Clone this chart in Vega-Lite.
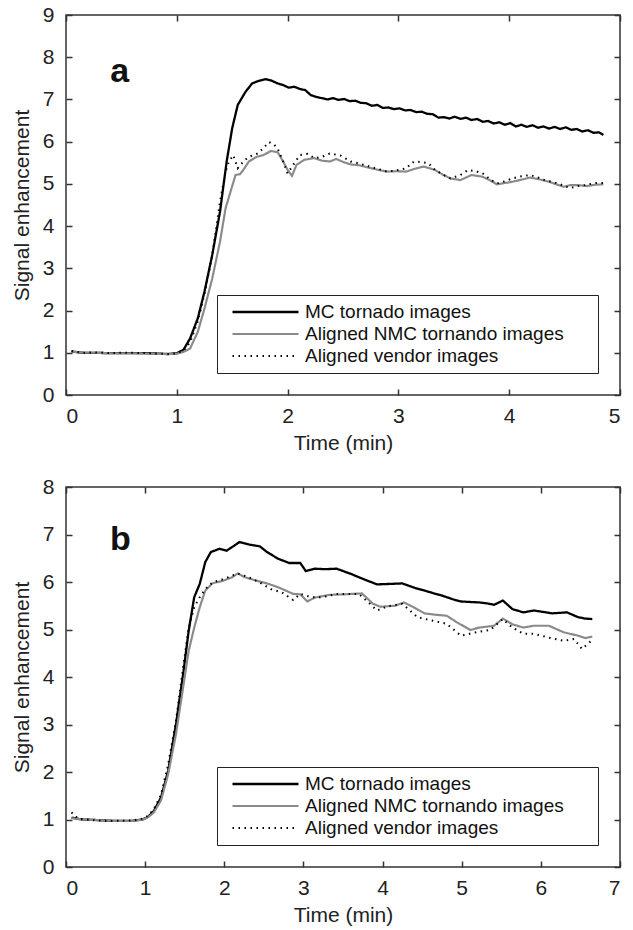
{
  "$schema": "https://vega.github.io/schema/vega-lite/v6.json",
  "background": "white",
  "padding": {"left": 10, "top": 3, "right": 5, "bottom": 5},
  "spacing": 21,
  "config": {
    "font": "Liberation Sans",
    "view": {"stroke": "#333", "strokeWidth": 1.5},
    "axis": {"domain": false, "grid": false, "tickSize": -6, "tickColor": "#333", "tickWidth": 1.5, "labelFontSize": 21, "labelColor": "#222", "titleFontSize": 21, "titleFontWeight": "normal", "titleColor": "#222"},
    "legend": {"orient": "bottom-right", "offset": 22, "strokeColor": "#222", "padding": 6, "symbolType": "stroke", "symbolSize": 4356, "clipHeight": 22, "rowPadding": 0, "labelFontSize": 19, "labelColor": "#111", "labelOffset": 5, "symbolOffset": 8, "labelLimit": 500, "fillColor": "white"}
  },
  "datasets": {
    "a": [
      {"s":"MC tornado images","t":0.05,"v":1.03},{"s":"MC tornado images","t":0.15,"v":1.0},{"s":"MC tornado images","t":0.26,"v":1.0},{"s":"MC tornado images","t":0.4,"v":0.99},{"s":"MC tornado images","t":0.59,"v":0.99},{"s":"MC tornado images","t":0.75,"v":0.99},{"s":"MC tornado images","t":0.92,"v":0.97},{"s":"MC tornado images","t":1.0,"v":0.99},{"s":"MC tornado images","t":1.06,"v":1.07},{"s":"MC tornado images","t":1.12,"v":1.34},{"s":"MC tornado images","t":1.19,"v":1.82},{"s":"MC tornado images","t":1.25,"v":2.45},{"s":"MC tornado images","t":1.32,"v":3.32},{"s":"MC tornado images","t":1.39,"v":4.34},{"s":"MC tornado images","t":1.45,"v":5.53},{"s":"MC tornado images","t":1.5,"v":6.32},{"s":"MC tornado images","t":1.55,"v":6.87},{"s":"MC tornado images","t":1.62,"v":7.18},{"s":"MC tornado images","t":1.68,"v":7.38},{"s":"MC tornado images","t":1.74,"v":7.44},{"s":"MC tornado images","t":1.8,"v":7.48},{"s":"MC tornado images","t":1.85,"v":7.45},{"s":"MC tornado images","t":1.91,"v":7.38},{"s":"MC tornado images","t":1.96,"v":7.34},{"s":"MC tornado images","t":2.01,"v":7.28},{"s":"MC tornado images","t":2.06,"v":7.3},{"s":"MC tornado images","t":2.11,"v":7.25},{"s":"MC tornado images","t":2.16,"v":7.22},{"s":"MC tornado images","t":2.21,"v":7.1},{"s":"MC tornado images","t":2.26,"v":7.06},{"s":"MC tornado images","t":2.31,"v":7.03},{"s":"MC tornado images","t":2.36,"v":7.0},{"s":"MC tornado images","t":2.41,"v":7.03},{"s":"MC tornado images","t":2.46,"v":6.99},{"s":"MC tornado images","t":2.51,"v":7.01},{"s":"MC tornado images","t":2.56,"v":6.96},{"s":"MC tornado images","t":2.61,"v":6.97},{"s":"MC tornado images","t":2.66,"v":6.92},{"s":"MC tornado images","t":2.71,"v":6.91},{"s":"MC tornado images","t":2.76,"v":6.85},{"s":"MC tornado images","t":2.81,"v":6.87},{"s":"MC tornado images","t":2.86,"v":6.8},{"s":"MC tornado images","t":2.91,"v":6.81},{"s":"MC tornado images","t":2.96,"v":6.77},{"s":"MC tornado images","t":3.01,"v":6.79},{"s":"MC tornado images","t":3.06,"v":6.74},{"s":"MC tornado images","t":3.11,"v":6.75},{"s":"MC tornado images","t":3.16,"v":6.7},{"s":"MC tornado images","t":3.21,"v":6.71},{"s":"MC tornado images","t":3.26,"v":6.66},{"s":"MC tornado images","t":3.31,"v":6.65},{"s":"MC tornado images","t":3.36,"v":6.57},{"s":"MC tornado images","t":3.41,"v":6.58},{"s":"MC tornado images","t":3.46,"v":6.55},{"s":"MC tornado images","t":3.51,"v":6.59},{"s":"MC tornado images","t":3.56,"v":6.54},{"s":"MC tornado images","t":3.61,"v":6.57},{"s":"MC tornado images","t":3.66,"v":6.51},{"s":"MC tornado images","t":3.71,"v":6.54},{"s":"MC tornado images","t":3.76,"v":6.47},{"s":"MC tornado images","t":3.81,"v":6.49},{"s":"MC tornado images","t":3.86,"v":6.43},{"s":"MC tornado images","t":3.91,"v":6.46},{"s":"MC tornado images","t":3.96,"v":6.4},{"s":"MC tornado images","t":4.01,"v":6.44},{"s":"MC tornado images","t":4.06,"v":6.36},{"s":"MC tornado images","t":4.11,"v":6.4},{"s":"MC tornado images","t":4.16,"v":6.35},{"s":"MC tornado images","t":4.21,"v":6.39},{"s":"MC tornado images","t":4.26,"v":6.33},{"s":"MC tornado images","t":4.31,"v":6.36},{"s":"MC tornado images","t":4.36,"v":6.31},{"s":"MC tornado images","t":4.41,"v":6.35},{"s":"MC tornado images","t":4.46,"v":6.3},{"s":"MC tornado images","t":4.51,"v":6.34},{"s":"MC tornado images","t":4.56,"v":6.28},{"s":"MC tornado images","t":4.61,"v":6.3},{"s":"MC tornado images","t":4.66,"v":6.24},{"s":"MC tornado images","t":4.71,"v":6.27},{"s":"MC tornado images","t":4.76,"v":6.21},{"s":"MC tornado images","t":4.81,"v":6.22},{"s":"MC tornado images","t":4.85,"v":6.16},
      {"s":"Aligned NMC tornando images","t":0.05,"v":1.03},{"s":"Aligned NMC tornando images","t":0.15,"v":1.0},{"s":"Aligned NMC tornando images","t":0.26,"v":1.0},{"s":"Aligned NMC tornando images","t":0.4,"v":0.99},{"s":"Aligned NMC tornando images","t":0.59,"v":0.99},{"s":"Aligned NMC tornando images","t":0.75,"v":0.98},{"s":"Aligned NMC tornando images","t":0.92,"v":0.97},{"s":"Aligned NMC tornando images","t":1.0,"v":0.98},{"s":"Aligned NMC tornando images","t":1.06,"v":1.02},{"s":"Aligned NMC tornando images","t":1.12,"v":1.1},{"s":"Aligned NMC tornando images","t":1.19,"v":1.5},{"s":"Aligned NMC tornando images","t":1.25,"v":2.05},{"s":"Aligned NMC tornando images","t":1.32,"v":2.76},{"s":"Aligned NMC tornando images","t":1.39,"v":3.63},{"s":"Aligned NMC tornando images","t":1.44,"v":4.42},{"s":"Aligned NMC tornando images","t":1.49,"v":4.86},{"s":"Aligned NMC tornando images","t":1.53,"v":5.21},{"s":"Aligned NMC tornando images","t":1.57,"v":5.23},{"s":"Aligned NMC tornando images","t":1.6,"v":5.33},{"s":"Aligned NMC tornando images","t":1.65,"v":5.53},{"s":"Aligned NMC tornando images","t":1.72,"v":5.64},{"s":"Aligned NMC tornando images","t":1.78,"v":5.68},{"s":"Aligned NMC tornando images","t":1.85,"v":5.78},{"s":"Aligned NMC tornando images","t":1.91,"v":5.75},{"s":"Aligned NMC tornando images","t":1.96,"v":5.53},{"s":"Aligned NMC tornando images","t":2.0,"v":5.33},{"s":"Aligned NMC tornando images","t":2.04,"v":5.19},{"s":"Aligned NMC tornando images","t":2.08,"v":5.45},{"s":"Aligned NMC tornando images","t":2.15,"v":5.57},{"s":"Aligned NMC tornando images","t":2.24,"v":5.61},{"s":"Aligned NMC tornando images","t":2.31,"v":5.55},{"s":"Aligned NMC tornando images","t":2.38,"v":5.53},{"s":"Aligned NMC tornando images","t":2.44,"v":5.59},{"s":"Aligned NMC tornando images","t":2.5,"v":5.52},{"s":"Aligned NMC tornando images","t":2.57,"v":5.46},{"s":"Aligned NMC tornando images","t":2.65,"v":5.44},{"s":"Aligned NMC tornando images","t":2.74,"v":5.38},{"s":"Aligned NMC tornando images","t":2.82,"v":5.33},{"s":"Aligned NMC tornando images","t":2.9,"v":5.29},{"s":"Aligned NMC tornando images","t":2.98,"v":5.3},{"s":"Aligned NMC tornando images","t":3.07,"v":5.29},{"s":"Aligned NMC tornando images","t":3.15,"v":5.36},{"s":"Aligned NMC tornando images","t":3.23,"v":5.41},{"s":"Aligned NMC tornando images","t":3.33,"v":5.33},{"s":"Aligned NMC tornando images","t":3.4,"v":5.22},{"s":"Aligned NMC tornando images","t":3.47,"v":5.13},{"s":"Aligned NMC tornando images","t":3.56,"v":5.09},{"s":"Aligned NMC tornando images","t":3.66,"v":5.21},{"s":"Aligned NMC tornando images","t":3.76,"v":5.17},{"s":"Aligned NMC tornando images","t":3.83,"v":5.08},{"s":"Aligned NMC tornando images","t":3.89,"v":4.99},{"s":"Aligned NMC tornando images","t":3.96,"v":5.02},{"s":"Aligned NMC tornando images","t":4.03,"v":5.05},{"s":"Aligned NMC tornando images","t":4.11,"v":5.1},{"s":"Aligned NMC tornando images","t":4.19,"v":5.15},{"s":"Aligned NMC tornando images","t":4.27,"v":5.11},{"s":"Aligned NMC tornando images","t":4.36,"v":5.05},{"s":"Aligned NMC tornando images","t":4.49,"v":4.93},{"s":"Aligned NMC tornando images","t":4.55,"v":4.97},{"s":"Aligned NMC tornando images","t":4.62,"v":4.97},{"s":"Aligned NMC tornando images","t":4.7,"v":4.95},{"s":"Aligned NMC tornando images","t":4.78,"v":4.98},{"s":"Aligned NMC tornando images","t":4.85,"v":4.99},
      {"s":"Aligned vendor images","t":0.05,"v":1.04},{"s":"Aligned vendor images","t":0.15,"v":1.0},{"s":"Aligned vendor images","t":0.26,"v":1.01},{"s":"Aligned vendor images","t":0.4,"v":0.99},{"s":"Aligned vendor images","t":0.5,"v":1.0},{"s":"Aligned vendor images","t":0.59,"v":1.0},{"s":"Aligned vendor images","t":0.75,"v":0.99},{"s":"Aligned vendor images","t":0.92,"v":0.97},{"s":"Aligned vendor images","t":1.0,"v":0.99},{"s":"Aligned vendor images","t":1.06,"v":1.05},{"s":"Aligned vendor images","t":1.12,"v":1.25},{"s":"Aligned vendor images","t":1.19,"v":1.75},{"s":"Aligned vendor images","t":1.25,"v":2.4},{"s":"Aligned vendor images","t":1.32,"v":3.3},{"s":"Aligned vendor images","t":1.39,"v":4.58},{"s":"Aligned vendor images","t":1.44,"v":5.29},{"s":"Aligned vendor images","t":1.47,"v":5.53},{"s":"Aligned vendor images","t":1.51,"v":5.68},{"s":"Aligned vendor images","t":1.55,"v":5.37},{"s":"Aligned vendor images","t":1.6,"v":5.53},{"s":"Aligned vendor images","t":1.65,"v":5.64},{"s":"Aligned vendor images","t":1.73,"v":5.72},{"s":"Aligned vendor images","t":1.78,"v":5.84},{"s":"Aligned vendor images","t":1.83,"v":5.99},{"s":"Aligned vendor images","t":1.87,"v":5.95},{"s":"Aligned vendor images","t":1.91,"v":5.84},{"s":"Aligned vendor images","t":1.96,"v":5.53},{"s":"Aligned vendor images","t":2.0,"v":5.25},{"s":"Aligned vendor images","t":2.05,"v":5.45},{"s":"Aligned vendor images","t":2.11,"v":5.68},{"s":"Aligned vendor images","t":2.18,"v":5.71},{"s":"Aligned vendor images","t":2.24,"v":5.61},{"s":"Aligned vendor images","t":2.31,"v":5.64},{"s":"Aligned vendor images","t":2.38,"v":5.72},{"s":"Aligned vendor images","t":2.48,"v":5.67},{"s":"Aligned vendor images","t":2.57,"v":5.53},{"s":"Aligned vendor images","t":2.65,"v":5.48},{"s":"Aligned vendor images","t":2.74,"v":5.41},{"s":"Aligned vendor images","t":2.82,"v":5.35},{"s":"Aligned vendor images","t":2.9,"v":5.29},{"s":"Aligned vendor images","t":2.98,"v":5.32},{"s":"Aligned vendor images","t":3.07,"v":5.37},{"s":"Aligned vendor images","t":3.14,"v":5.53},{"s":"Aligned vendor images","t":3.2,"v":5.52},{"s":"Aligned vendor images","t":3.27,"v":5.49},{"s":"Aligned vendor images","t":3.33,"v":5.33},{"s":"Aligned vendor images","t":3.4,"v":5.22},{"s":"Aligned vendor images","t":3.47,"v":5.13},{"s":"Aligned vendor images","t":3.56,"v":5.21},{"s":"Aligned vendor images","t":3.63,"v":5.33},{"s":"Aligned vendor images","t":3.7,"v":5.3},{"s":"Aligned vendor images","t":3.76,"v":5.25},{"s":"Aligned vendor images","t":3.83,"v":5.1},{"s":"Aligned vendor images","t":3.89,"v":5.01},{"s":"Aligned vendor images","t":3.96,"v":5.06},{"s":"Aligned vendor images","t":4.03,"v":5.13},{"s":"Aligned vendor images","t":4.11,"v":5.18},{"s":"Aligned vendor images","t":4.19,"v":5.21},{"s":"Aligned vendor images","t":4.26,"v":5.15},{"s":"Aligned vendor images","t":4.32,"v":5.09},{"s":"Aligned vendor images","t":4.4,"v":5.04},{"s":"Aligned vendor images","t":4.46,"v":4.99},{"s":"Aligned vendor images","t":4.55,"v":4.9},{"s":"Aligned vendor images","t":4.62,"v":4.95},{"s":"Aligned vendor images","t":4.69,"v":4.97},{"s":"Aligned vendor images","t":4.77,"v":5.02},{"s":"Aligned vendor images","t":4.85,"v":5.02}
    ],
    "b": [
      {"s":"MC tornado images","t":0.07,"v":1.04},{"s":"MC tornado images","t":0.2,"v":1.0},{"s":"MC tornado images","t":0.37,"v":0.99},{"s":"MC tornado images","t":0.6,"v":0.97},{"s":"MC tornado images","t":0.83,"v":0.97},{"s":"MC tornado images","t":0.97,"v":1.0},{"s":"MC tornado images","t":1.04,"v":1.06},{"s":"MC tornado images","t":1.11,"v":1.18},{"s":"MC tornado images","t":1.2,"v":1.46},{"s":"MC tornado images","t":1.29,"v":2.02},{"s":"MC tornado images","t":1.39,"v":3.01},{"s":"MC tornado images","t":1.48,"v":4.06},{"s":"MC tornado images","t":1.55,"v":4.97},{"s":"MC tornado images","t":1.62,"v":5.68},{"s":"MC tornado images","t":1.69,"v":5.96},{"s":"MC tornado images","t":1.76,"v":6.42},{"s":"MC tornado images","t":1.83,"v":6.63},{"s":"MC tornado images","t":1.94,"v":6.7},{"s":"MC tornado images","t":2.03,"v":6.66},{"s":"MC tornado images","t":2.13,"v":6.77},{"s":"MC tornado images","t":2.19,"v":6.84},{"s":"MC tornado images","t":2.31,"v":6.79},{"s":"MC tornado images","t":2.45,"v":6.75},{"s":"MC tornado images","t":2.54,"v":6.63},{"s":"MC tornado images","t":2.68,"v":6.49},{"s":"MC tornado images","t":2.82,"v":6.4},{"s":"MC tornado images","t":2.96,"v":6.4},{"s":"MC tornado images","t":3.03,"v":6.23},{"s":"MC tornado images","t":3.14,"v":6.28},{"s":"MC tornado images","t":3.28,"v":6.27},{"s":"MC tornado images","t":3.42,"v":6.28},{"s":"MC tornado images","t":3.6,"v":6.17},{"s":"MC tornado images","t":3.79,"v":6.04},{"s":"MC tornado images","t":3.93,"v":5.95},{"s":"MC tornado images","t":4.1,"v":5.96},{"s":"MC tornado images","t":4.25,"v":5.97},{"s":"MC tornado images","t":4.4,"v":5.88},{"s":"MC tornado images","t":4.53,"v":5.82},{"s":"MC tornado images","t":4.65,"v":5.76},{"s":"MC tornado images","t":4.76,"v":5.71},{"s":"MC tornado images","t":4.88,"v":5.64},{"s":"MC tornado images","t":4.99,"v":5.59},{"s":"MC tornado images","t":5.1,"v":5.58},{"s":"MC tornado images","t":5.22,"v":5.57},{"s":"MC tornado images","t":5.32,"v":5.55},{"s":"MC tornado images","t":5.41,"v":5.52},{"s":"MC tornado images","t":5.52,"v":5.61},{"s":"MC tornado images","t":5.64,"v":5.43},{"s":"MC tornado images","t":5.78,"v":5.36},{"s":"MC tornado images","t":5.91,"v":5.4},{"s":"MC tornado images","t":6.03,"v":5.37},{"s":"MC tornado images","t":6.14,"v":5.34},{"s":"MC tornado images","t":6.33,"v":5.36},{"s":"MC tornado images","t":6.47,"v":5.26},{"s":"MC tornado images","t":6.56,"v":5.23},{"s":"MC tornado images","t":6.65,"v":5.22},
      {"s":"Aligned NMC tornando images","t":0.07,"v":1.03},{"s":"Aligned NMC tornando images","t":0.2,"v":1.0},{"s":"Aligned NMC tornando images","t":0.37,"v":0.99},{"s":"Aligned NMC tornando images","t":0.6,"v":0.97},{"s":"Aligned NMC tornando images","t":0.83,"v":0.97},{"s":"Aligned NMC tornando images","t":0.97,"v":1.0},{"s":"Aligned NMC tornando images","t":1.04,"v":1.05},{"s":"Aligned NMC tornando images","t":1.11,"v":1.15},{"s":"Aligned NMC tornando images","t":1.2,"v":1.4},{"s":"Aligned NMC tornando images","t":1.29,"v":1.95},{"s":"Aligned NMC tornando images","t":1.39,"v":2.8},{"s":"Aligned NMC tornando images","t":1.48,"v":3.78},{"s":"Aligned NMC tornando images","t":1.55,"v":4.55},{"s":"Aligned NMC tornando images","t":1.62,"v":5.04},{"s":"Aligned NMC tornando images","t":1.69,"v":5.47},{"s":"Aligned NMC tornando images","t":1.76,"v":5.82},{"s":"Aligned NMC tornando images","t":1.85,"v":5.97},{"s":"Aligned NMC tornando images","t":1.99,"v":6.03},{"s":"Aligned NMC tornando images","t":2.1,"v":6.1},{"s":"Aligned NMC tornando images","t":2.17,"v":6.18},{"s":"Aligned NMC tornando images","t":2.26,"v":6.1},{"s":"Aligned NMC tornando images","t":2.4,"v":6.03},{"s":"Aligned NMC tornando images","t":2.54,"v":5.97},{"s":"Aligned NMC tornando images","t":2.68,"v":5.89},{"s":"Aligned NMC tornando images","t":2.87,"v":5.75},{"s":"Aligned NMC tornando images","t":2.96,"v":5.74},{"s":"Aligned NMC tornando images","t":3.05,"v":5.59},{"s":"Aligned NMC tornando images","t":3.14,"v":5.67},{"s":"Aligned NMC tornando images","t":3.33,"v":5.73},{"s":"Aligned NMC tornando images","t":3.51,"v":5.74},{"s":"Aligned NMC tornando images","t":3.74,"v":5.76},{"s":"Aligned NMC tornando images","t":3.88,"v":5.54},{"s":"Aligned NMC tornando images","t":3.97,"v":5.48},{"s":"Aligned NMC tornando images","t":4.16,"v":5.5},{"s":"Aligned NMC tornando images","t":4.27,"v":5.57},{"s":"Aligned NMC tornando images","t":4.39,"v":5.47},{"s":"Aligned NMC tornando images","t":4.53,"v":5.34},{"s":"Aligned NMC tornando images","t":4.67,"v":5.31},{"s":"Aligned NMC tornando images","t":4.81,"v":5.29},{"s":"Aligned NMC tornando images","t":4.94,"v":5.15},{"s":"Aligned NMC tornando images","t":5.11,"v":4.99},{"s":"Aligned NMC tornando images","t":5.22,"v":5.04},{"s":"Aligned NMC tornando images","t":5.41,"v":5.08},{"s":"Aligned NMC tornando images","t":5.52,"v":5.23},{"s":"Aligned NMC tornando images","t":5.64,"v":5.11},{"s":"Aligned NMC tornando images","t":5.78,"v":5.04},{"s":"Aligned NMC tornando images","t":5.91,"v":5.08},{"s":"Aligned NMC tornando images","t":6.1,"v":5.08},{"s":"Aligned NMC tornando images","t":6.29,"v":4.94},{"s":"Aligned NMC tornando images","t":6.47,"v":4.87},{"s":"Aligned NMC tornando images","t":6.56,"v":4.82},{"s":"Aligned NMC tornando images","t":6.65,"v":4.85},
      {"s":"Aligned vendor images","t":0.07,"v":1.15},{"s":"Aligned vendor images","t":0.15,"v":1.02},{"s":"Aligned vendor images","t":0.37,"v":0.98},{"s":"Aligned vendor images","t":0.6,"v":0.97},{"s":"Aligned vendor images","t":0.83,"v":0.98},{"s":"Aligned vendor images","t":0.97,"v":1.02},{"s":"Aligned vendor images","t":1.04,"v":1.08},{"s":"Aligned vendor images","t":1.11,"v":1.22},{"s":"Aligned vendor images","t":1.2,"v":1.52},{"s":"Aligned vendor images","t":1.29,"v":2.15},{"s":"Aligned vendor images","t":1.39,"v":3.08},{"s":"Aligned vendor images","t":1.48,"v":4.2},{"s":"Aligned vendor images","t":1.55,"v":5.04},{"s":"Aligned vendor images","t":1.62,"v":5.47},{"s":"Aligned vendor images","t":1.69,"v":5.68},{"s":"Aligned vendor images","t":1.76,"v":5.85},{"s":"Aligned vendor images","t":1.85,"v":5.99},{"s":"Aligned vendor images","t":1.99,"v":6.06},{"s":"Aligned vendor images","t":2.17,"v":6.18},{"s":"Aligned vendor images","t":2.31,"v":6.1},{"s":"Aligned vendor images","t":2.45,"v":5.99},{"s":"Aligned vendor images","t":2.59,"v":5.85},{"s":"Aligned vendor images","t":2.73,"v":5.78},{"s":"Aligned vendor images","t":2.87,"v":5.62},{"s":"Aligned vendor images","t":2.96,"v":5.75},{"s":"Aligned vendor images","t":3.1,"v":5.68},{"s":"Aligned vendor images","t":3.24,"v":5.68},{"s":"Aligned vendor images","t":3.42,"v":5.75},{"s":"Aligned vendor images","t":3.7,"v":5.75},{"s":"Aligned vendor images","t":3.84,"v":5.54},{"s":"Aligned vendor images","t":3.93,"v":5.4},{"s":"Aligned vendor images","t":4.07,"v":5.49},{"s":"Aligned vendor images","t":4.25,"v":5.54},{"s":"Aligned vendor images","t":4.44,"v":5.26},{"s":"Aligned vendor images","t":4.62,"v":5.19},{"s":"Aligned vendor images","t":4.81,"v":5.12},{"s":"Aligned vendor images","t":4.99,"v":4.87},{"s":"Aligned vendor images","t":5.18,"v":4.94},{"s":"Aligned vendor images","t":5.36,"v":4.99},{"s":"Aligned vendor images","t":5.52,"v":5.22},{"s":"Aligned vendor images","t":5.64,"v":5.04},{"s":"Aligned vendor images","t":5.78,"v":4.91},{"s":"Aligned vendor images","t":5.91,"v":4.91},{"s":"Aligned vendor images","t":6.1,"v":4.83},{"s":"Aligned vendor images","t":6.29,"v":4.76},{"s":"Aligned vendor images","t":6.42,"v":4.8},{"s":"Aligned vendor images","t":6.52,"v":4.59},{"s":"Aligned vendor images","t":6.65,"v":4.78}
    ],
    "la": [{"t": 0.40, "v": 7.42, "label": "a"}],
    "lb": [{"t": 0.556, "v": 6.67, "label": "b"}]
  },
  "vconcat": [
    {
      "width": 554, "height": 380,
      "layer": [
        {
          "data": {"name": "a"},
          "mark": {"type": "line", "interpolate": "linear"},
          "encoding": {
            "x": {"field": "t", "type": "quantitative", "scale": {"domain": [0, 5], "nice": false}, "axis": {"title": "Time (min)", "values": [0, 1, 2, 3, 4, 5], "labelPadding": 16, "titlePadding": 6}},
            "y": {"field": "v", "type": "quantitative", "scale": {"domain": [0, 9], "nice": false}, "axis": {"title": "Signal enhancement", "values": [0, 1, 2, 3, 4, 5, 6, 7, 8, 9], "labelPadding": 18, "titlePadding": 10}},
            "color": {"field": "s", "type": "nominal", "sort": null, "scale": {"domain": ["MC tornado images", "Aligned NMC tornando images", "Aligned vendor images"], "range": ["#000000", "#8a8a8a", "#000000"]}, "legend": {"title": null, "labelExpr": "datum.label + '\u2800\u2800'"}},
            "strokeDash": {"field": "s", "type": "nominal", "sort": null, "scale": {"domain": ["MC tornado images", "Aligned NMC tornando images", "Aligned vendor images"], "range": [[1, 0], [1, 0], [1.5, 4.5]]}, "legend": {"title": null, "labelExpr": "datum.label + '\u2800\u2800'"}},
            "strokeWidth": {"field": "s", "type": "nominal", "sort": null, "scale": {"domain": ["MC tornado images", "Aligned NMC tornando images", "Aligned vendor images"], "range": [2.3, 2, 1.7]}, "legend": {"title": null, "labelExpr": "datum.label + '\u2800\u2800'"}}
          }
        },
        {
          "data": {"name": "a"},
          "mark": {"type": "point", "opacity": 0},
          "encoding": {
            "x": {"field": "t", "type": "quantitative", "axis": {"orient": "top", "labels": false, "title": null, "values": [0, 1, 2, 3, 4, 5]}},
            "y": {"field": "v", "type": "quantitative", "axis": {"orient": "right", "labels": false, "title": null, "values": [0, 1, 2, 3, 4, 5, 6, 7, 8, 9]}}
          }
        },
        {
          "data": {"name": "la"},
          "mark": {"type": "text", "fontSize": 34, "fontWeight": "bold", "align": "left", "baseline": "alphabetic", "color": "#111"},
          "encoding": {
            "x": {"field": "t", "type": "quantitative", "axis": null},
            "y": {"field": "v", "type": "quantitative", "axis": null},
            "text": {"field": "label"}
          }
        }
      ],
      "resolve": {"axis": {"x": "independent", "y": "independent"}}
    },
    {
      "width": 554, "height": 380,
      "layer": [
        {
          "data": {"name": "b"},
          "mark": {"type": "line", "interpolate": "linear"},
          "encoding": {
            "x": {"field": "t", "type": "quantitative", "scale": {"domain": [0, 7], "nice": false}, "axis": {"title": "Time (min)", "values": [0, 1, 2, 3, 4, 5, 6, 7], "labelPadding": 16, "titlePadding": 6}},
            "y": {"field": "v", "type": "quantitative", "scale": {"domain": [0, 8], "nice": false}, "axis": {"title": "Signal enhancement", "values": [0, 1, 2, 3, 4, 5, 6, 7, 8], "labelPadding": 18, "titlePadding": 10}},
            "color": {"field": "s", "type": "nominal", "sort": null, "scale": {"domain": ["MC tornado images", "Aligned NMC tornando images", "Aligned vendor images"], "range": ["#000000", "#8a8a8a", "#000000"]}, "legend": {"title": null, "labelExpr": "datum.label + '\u2800\u2800'"}},
            "strokeDash": {"field": "s", "type": "nominal", "sort": null, "scale": {"domain": ["MC tornado images", "Aligned NMC tornando images", "Aligned vendor images"], "range": [[1, 0], [1, 0], [1.5, 4.5]]}, "legend": {"title": null, "labelExpr": "datum.label + '\u2800\u2800'"}},
            "strokeWidth": {"field": "s", "type": "nominal", "sort": null, "scale": {"domain": ["MC tornado images", "Aligned NMC tornando images", "Aligned vendor images"], "range": [2.3, 2, 1.7]}, "legend": {"title": null, "labelExpr": "datum.label + '\u2800\u2800'"}}
          }
        },
        {
          "data": {"name": "b"},
          "mark": {"type": "point", "opacity": 0},
          "encoding": {
            "x": {"field": "t", "type": "quantitative", "axis": {"orient": "top", "labels": false, "title": null, "values": [0, 1, 2, 3, 4, 5, 6, 7]}},
            "y": {"field": "v", "type": "quantitative", "axis": {"orient": "right", "labels": false, "title": null, "values": [0, 1, 2, 3, 4, 5, 6, 7, 8]}}
          }
        },
        {
          "data": {"name": "lb"},
          "mark": {"type": "text", "fontSize": 34, "fontWeight": "bold", "align": "left", "baseline": "alphabetic", "color": "#111"},
          "encoding": {
            "x": {"field": "t", "type": "quantitative", "axis": null},
            "y": {"field": "v", "type": "quantitative", "axis": null},
            "text": {"field": "label"}
          }
        }
      ],
      "resolve": {"axis": {"x": "independent", "y": "independent"}}
    }
  ],
  "resolve": {
    "scale": {"color": "independent", "strokeDash": "independent", "strokeWidth": "independent"},
    "legend": {"color": "independent", "strokeDash": "independent", "strokeWidth": "independent"}
  }
}
